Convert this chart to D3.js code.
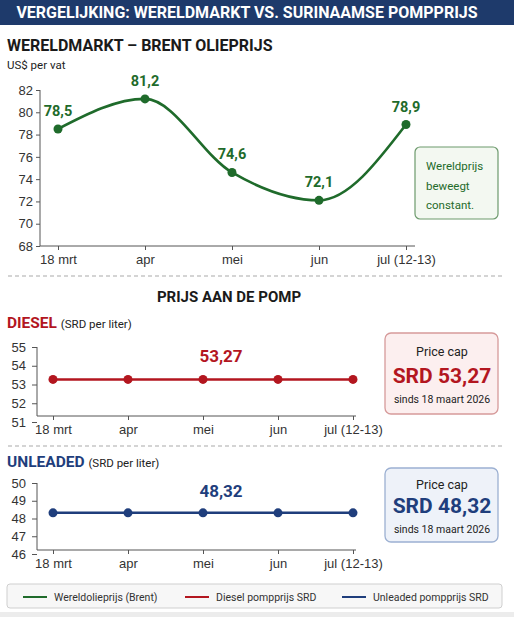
<!DOCTYPE html>
<html>
<head>
<meta charset="utf-8">
<script src="https://cdn.jsdelivr.net/npm/d3@7"></script>
<style>
  body { margin: 0; background: #fff; }
  svg { display: block; font-family: Roboto, 'Noto Sans', sans-serif; }
  .tick text { fill: #333; }
  .tick line, .domain { stroke: #555; }
</style>
</head>
<body>
<div id="chart"></div>
<script>
'use strict';

// Data
const months = ['18 mrt', 'apr', 'mei', 'jun', 'jul (12-13)'];
const brent = [78.5, 81.2, 74.6, 72.1, 78.9];
const diesel = [53.27, 53.27, 53.27, 53.27, 53.27];
const unleaded = [48.32, 48.32, 48.32, 48.32, 48.32];
const brentTicks = [68, 70, 72, 74, 76, 78, 80, 82];
const dieselTicks = [51, 52, 53, 54, 55];
const unleadedTicks = [46, 47, 48, 49, 50];
const legendItems = ['Wereldolieprijs (Brent)', 'Diesel pompprijs SRD', 'Unleaded pompprijs SRD'];

const GREEN = '#1f6b2b';
const RED = '#b3161f';
const NAVY = '#1f3e7c';
const fmt = v => String(v).replace('.', ',');

const width = 514;
const height = 617;

const svg = d3.select('#chart')
  .append('svg')
  .attr('width', width)
  .attr('height', height);

// Header banner
svg.append('rect')
  .attr('x', 0).attr('y', 0)
  .attr('width', width).attr('height', 25)
  .attr('fill', '#1e3a6b');

svg.append('text')
  .attr('x', 247).attr('y', 18)
  .attr('text-anchor', 'middle')
  .attr('fill', '#fff')
  .style('font-size', '16px')
  .style('font-weight', 700)
  .text('VERGELIJKING: WERELDMARKT VS. SURINAAMSE POMPPRIJS');

svg.append('text')
  .attr('x', 7).attr('y', 51)
  .attr('fill', '#1a1a1a')
  .style('font-size', '16px')
  .style('font-weight', 700)
  .text('WERELDMARKT – BRENT OLIEPRIJS');

svg.append('text')
  .attr('x', 7).attr('y', 69)
  .attr('fill', '#222')
  .style('font-size', '11.5px')
  .text('US$ per vat');

// One line panel
function drawPanel(cfg) {
  const x = d3.scalePoint().domain(months).range(cfg.xRange);
  const y = d3.scaleLinear().domain(cfg.yDomain).range(cfg.yRange);
  const g = svg.append('g');

  // Y axis
  g.append('g')
    .attr('transform', `translate(${cfg.axisLeft},0)`)
    .call(d3.axisLeft(y).tickValues(cfg.ticks).tickFormat(d3.format('d'))
      .tickSize(cfg.tickSize).tickPadding(cfg.tickPad).tickSizeOuter(0))
    .call(a => a.select('.domain').remove())
    .call(a => a.selectAll('text').style('font-size', '13px'));

  g.append('line')
    .attr('x1', cfg.axisLeft).attr('x2', cfg.axisLeft)
    .attr('y1', cfg.yRange[1]).attr('y2', cfg.axisY)
    .attr('stroke', '#555');

  // X axis
  g.append('g')
    .attr('transform', `translate(0,${cfg.axisY})`)
    .call(d3.axisBottom(x).tickSize(4).tickPadding(5))
    .call(a => a.select('.domain').remove())
    .call(a => a.selectAll('text').style('font-size', '13px'));

  g.append('line')
    .attr('x1', cfg.axisLeft).attr('x2', cfg.axisRight)
    .attr('y1', cfg.axisY).attr('y2', cfg.axisY)
    .attr('stroke', '#555');

  const pts = months.map((m, i) => ({ m, v: cfg.values[i] }));

  g.append('path')
    .datum(pts)
    .attr('fill', 'none')
    .attr('stroke', cfg.color)
    .attr('stroke-width', 2.6)
    .attr('d', d3.line().x(d => x(d.m)).y(d => y(d.v)).curve(d3.curveMonotoneX));

  g.selectAll('.dot')
    .data(pts)
    .join('circle')
    .attr('cx', d => x(d.m))
    .attr('cy', d => y(d.v))
    .attr('r', 4.5)
    .attr('fill', cfg.color);

  return { x, y, g, pts };
}

// Brent panel
const p1 = drawPanel({
  xRange: [58, 406], yDomain: [68, 82], yRange: [246, 90],
  axisLeft: 40, axisRight: 415, axisY: 246,
  ticks: brentTicks, tickSize: 4, tickPad: 3,
  values: brent, color: GREEN
});

p1.g.selectAll('.val')
  .data(p1.pts)
  .join('text')
  .attr('x', d => p1.x(d.m))
  .attr('y', d => p1.y(d.v) - 13)
  .attr('text-anchor', 'middle')
  .attr('fill', GREEN)
  .style('font-size', '14.5px')
  .style('font-weight', 700)
  .text(d => fmt(d.v));

svg.append('rect')
  .attr('x', 415).attr('y', 147)
  .attr('width', 83).attr('height', 72)
  .attr('rx', 5)
  .attr('fill', '#f3f8f1')
  .attr('stroke', '#6d9a6d')
  .attr('stroke-width', 1.2);

['Wereldprijs', 'beweegt', 'constant.'].forEach((t, i) => {
  svg.append('text')
    .attr('x', 426).attr('y', 170 + i * 19.5)
    .attr('fill', GREEN)
    .style('font-size', '11.5px')
    .text(t);
});

// Separators
[276, 446].forEach(yy => {
  svg.append('line')
    .attr('x1', 8).attr('x2', 502)
    .attr('y1', yy).attr('y2', yy)
    .attr('stroke', '#aaa')
    .attr('stroke-width', 1.2)
    .attr('stroke-dasharray', '4,3');
});

svg.append('text')
  .attr('x', 229).attr('y', 302)
  .attr('text-anchor', 'middle')
  .attr('fill', '#1a1a1a')
  .style('font-size', '15px')
  .style('font-weight', 700)
  .text('PRIJS AAN DE POMP');

function fuelTitle(name, color, yy) {
  const t = svg.append('text')
    .attr('x', 7).attr('y', yy);
  t.append('tspan')
    .attr('fill', color)
    .style('font-size', '15.5px')
    .style('font-weight', 700)
    .text(name + ' ');
  t.append('tspan')
    .attr('fill', '#222')
    .style('font-size', '11.5px')
    .text('(SRD per liter)');
}

// price cap box; rows = baselines relative to the box top
function capBox(yTop, h, rows, color, fill, stroke, value) {
  svg.append('rect')
    .attr('x', 385).attr('y', yTop)
    .attr('width', 113).attr('height', h)
    .attr('rx', 6)
    .attr('fill', fill)
    .attr('stroke', stroke)
    .attr('stroke-width', 1.3);
  svg.append('text')
    .attr('x', 442).attr('y', yTop + rows[0])
    .attr('text-anchor', 'middle')
    .attr('fill', '#222')
    .style('font-size', '12.5px')
    .text('Price cap');
  svg.append('text')
    .attr('x', 442).attr('y', yTop + rows[1])
    .attr('text-anchor', 'middle')
    .attr('fill', color)
    .style('font-size', '21px')
    .style('font-weight', 700)
    .text('SRD ' + fmt(value));
  svg.append('text')
    .attr('x', 442).attr('y', yTop + rows[2])
    .attr('text-anchor', 'middle')
    .attr('fill', '#222')
    .style('font-size', '10.5px')
    .text('sinds 18 maart 2026');
}

// Diesel panel
fuelTitle('DIESEL', RED, 328);
const p2 = drawPanel({
  xRange: [53, 353], yDomain: [51, 55], yRange: [422, 347],
  axisLeft: 37, axisRight: 356, axisY: 416,
  ticks: dieselTicks, tickSize: 5, tickPad: 6,
  values: diesel, color: RED
});
p2.g.append('text')
  .attr('x', p2.x('mei') + 18).attr('y', 362)
  .attr('text-anchor', 'middle')
  .attr('fill', RED)
  .style('font-size', '17px')
  .style('font-weight', 700)
  .text(fmt(diesel[2]));
capBox(333, 81, [23, 50, 70], RED, '#fcefef', '#d69a9a', diesel[0]);

// Unleaded panel
fuelTitle('UNLEADED', NAVY, 467);
const p3 = drawPanel({
  xRange: [53, 353], yDomain: [46, 50], yRange: [554, 483],
  axisLeft: 37, axisRight: 356, axisY: 550,
  ticks: unleadedTicks, tickSize: 5, tickPad: 6,
  values: unleaded, color: NAVY
});
p3.g.append('text')
  .attr('x', p3.x('mei') + 18).attr('y', 497)
  .attr('text-anchor', 'middle')
  .attr('fill', NAVY)
  .style('font-size', '17px')
  .style('font-weight', 700)
  .text(fmt(unleaded[2]));
capBox(468, 74, [21, 45, 65], NAVY, '#eef2f9', '#9cb0d2', unleaded[0]);

// Legend
svg.append('rect')
  .attr('x', 7).attr('y', 584)
  .attr('width', 495).attr('height', 24)
  .attr('rx', 3)
  .attr('fill', '#f7f7f7')
  .attr('stroke', '#cfcfcf');

const legendColors = [GREEN, RED, NAVY];
const legendX = [23, 185, 342];
legendItems.forEach((t, i) => {
  svg.append('line')
    .attr('x1', legendX[i]).attr('x2', legendX[i] + 24)
    .attr('y1', 597).attr('y2', 597)
    .attr('stroke', legendColors[i])
    .attr('stroke-width', 2);
  svg.append('text')
    .attr('x', legendX[i] + 31).attr('y', 600.5)
    .attr('fill', '#333')
    .style('font-size', '10.5px')
    .text(t);
});

svg.append('rect')
  .attr('x', 0).attr('y', 612)
  .attr('width', width).attr('height', 5)
  .attr('fill', '#ececec');
</script>
</body>
</html>
